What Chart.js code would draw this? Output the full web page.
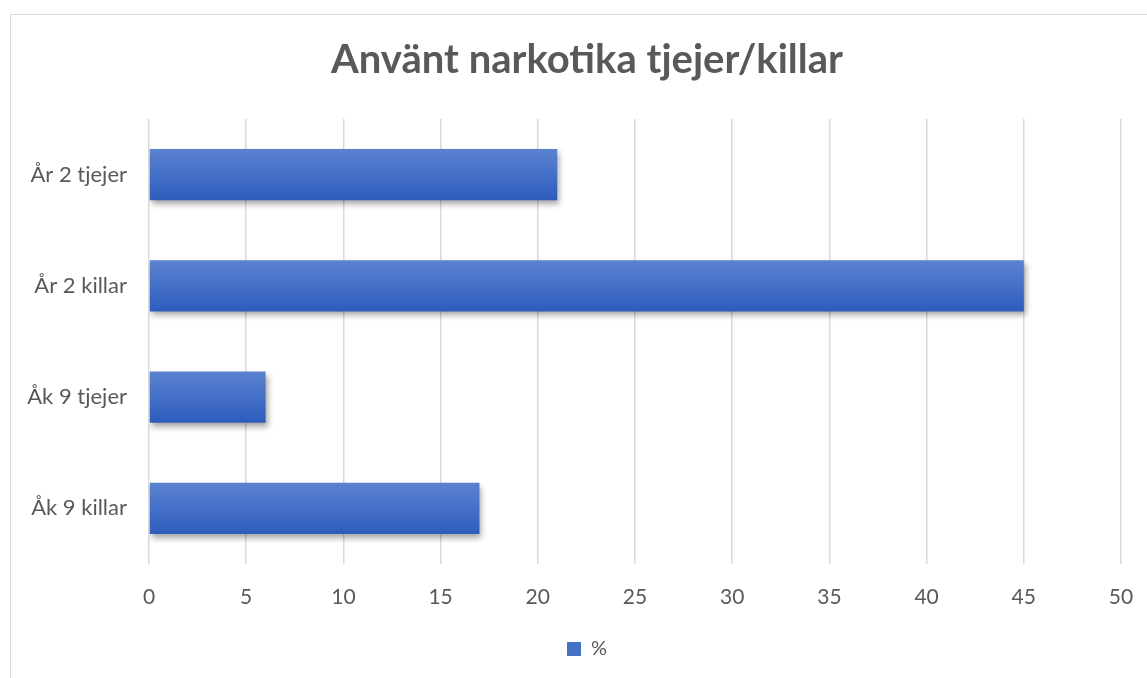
<!DOCTYPE html>
<html>
<head>
<meta charset="utf-8">
<script src="https://cdn.jsdelivr.net/npm/chart.js@4"></script>
<style>
  html, body { margin: 0; padding: 0; background: #fff; overflow: hidden; }
  #wrap { width: 1164px; height: 678px; }
</style>
</head>
<body>
<div id="wrap"><canvas id="chart" width="1164" height="678"></canvas></div>
<script>
// data
const categories = ['År 2 tjejer', 'År 2 killar', 'Åk 9 tjejer', 'Åk 9 killar'];
const percentValues = [21, 45, 6, 17];
const seriesName = '%';
const xMin = 0, xMax = 50, xStep = 5;

const FONT = 'Lato, "Open Sans", sans-serif';
const TEXT = '#595959';
const GRID = '#d9d9d9';
const BAR_PCT = 0.46;

function barGradient(context) {
    const chart = context.chart;
    const y = chart.scales.y;
    if (!y || context.dataIndex === undefined) return '#4472c4';
    const center = y.getPixelForValue(context.dataIndex);
    const band = (y.bottom - y.top) / categories.length * BAR_PCT;
    if (!isFinite(center) || !isFinite(band) || band <= 0) return '#4472c4';
    const g = chart.ctx.createLinearGradient(0, center - band / 2, 0, center + band / 2);
    g.addColorStop(0, '#5b82cf');
    g.addColorStop(0.5, '#4470c8');
    g.addColorStop(1, '#2e5cbc');
    return g;
}

// frame of the chart box + drop shadow under bars
const chartFrame = {
    id: 'chartFrame',
    beforeDraw(chart) {
        const ctx = chart.ctx;
        ctx.save();
        ctx.strokeStyle = GRID;
        ctx.lineWidth = 1;
        ctx.strokeRect(10.5, 14.5, chart.width + 20, chart.height + 20);
        ctx.restore();
    },
    beforeDatasetsDraw(chart) {
        const ctx = chart.ctx;
        ctx.save();
        ctx.shadowColor = 'rgba(0,0,0,0.35)';
        ctx.shadowBlur = 6;
        ctx.shadowOffsetX = 2;
        ctx.shadowOffsetY = 4;
    },
    afterDatasetsDraw(chart) {
        chart.ctx.restore();
    }
};

new Chart(document.getElementById('chart'), {
    type: 'bar',
    data: {
        labels: categories,
        datasets: [{
            label: seriesName,
            data: percentValues,
            backgroundColor: barGradient,
            borderWidth: 0,
            barPercentage: 1,
            categoryPercentage: BAR_PCT
        }]
    },
    options: {
        indexAxis: 'y',
        responsive: false,
        animation: false,
        layout: { padding: { left: 10, right: 0, top: 14, bottom: 9 } },
        scales: {
            x: {
                min: xMin, max: xMax,
                ticks: { stepSize: xStep, color: TEXT, font: { family: FONT, size: 21 }, padding: 21 },
                grid: { color: GRID, lineWidth: 1.5, drawTicks: false },
                border: { display: false },
                afterFit(s) { s.height = 65; }
            },
            y: {
                ticks: { color: TEXT, font: { family: FONT, size: 22 }, padding: 22 },
                grid: { display: false, drawTicks: false },
                border: { display: false },
                afterFit(s) { s.width = 139; }
            },
            yRight: {
                type: 'linear',
                position: 'right',
                display: true,
                ticks: { display: false },
                grid: { display: false, drawTicks: false },
                border: { display: false },
                afterFit(s) { s.width = 43; }
            }
        },
        plugins: {
            title: {
                display: true,
                text: 'Använt narkotika tjejer/killar',
                color: TEXT,
                font: { family: FONT, size: 40, weight: 'bold' },
                padding: { top: 22, bottom: 35 }
            },
            legend: {
                position: 'bottom',
                labels: {
                    color: TEXT,
                    font: { family: FONT, size: 20 },
                    boxWidth: 14,
                    boxHeight: 14,
                    padding: 10,
                    generateLabels(chart) {
                        const items = Chart.defaults.plugins.legend.labels.generateLabels(chart);
                        items.forEach(it => { it.fillStyle = '#4472c4'; it.lineWidth = 0; it.strokeStyle = 'transparent'; });
                        return items;
                    }
                }
            },
            tooltip: { enabled: false }
        }
    },
    plugins: [chartFrame]
});
</script>
</body>
</html>
